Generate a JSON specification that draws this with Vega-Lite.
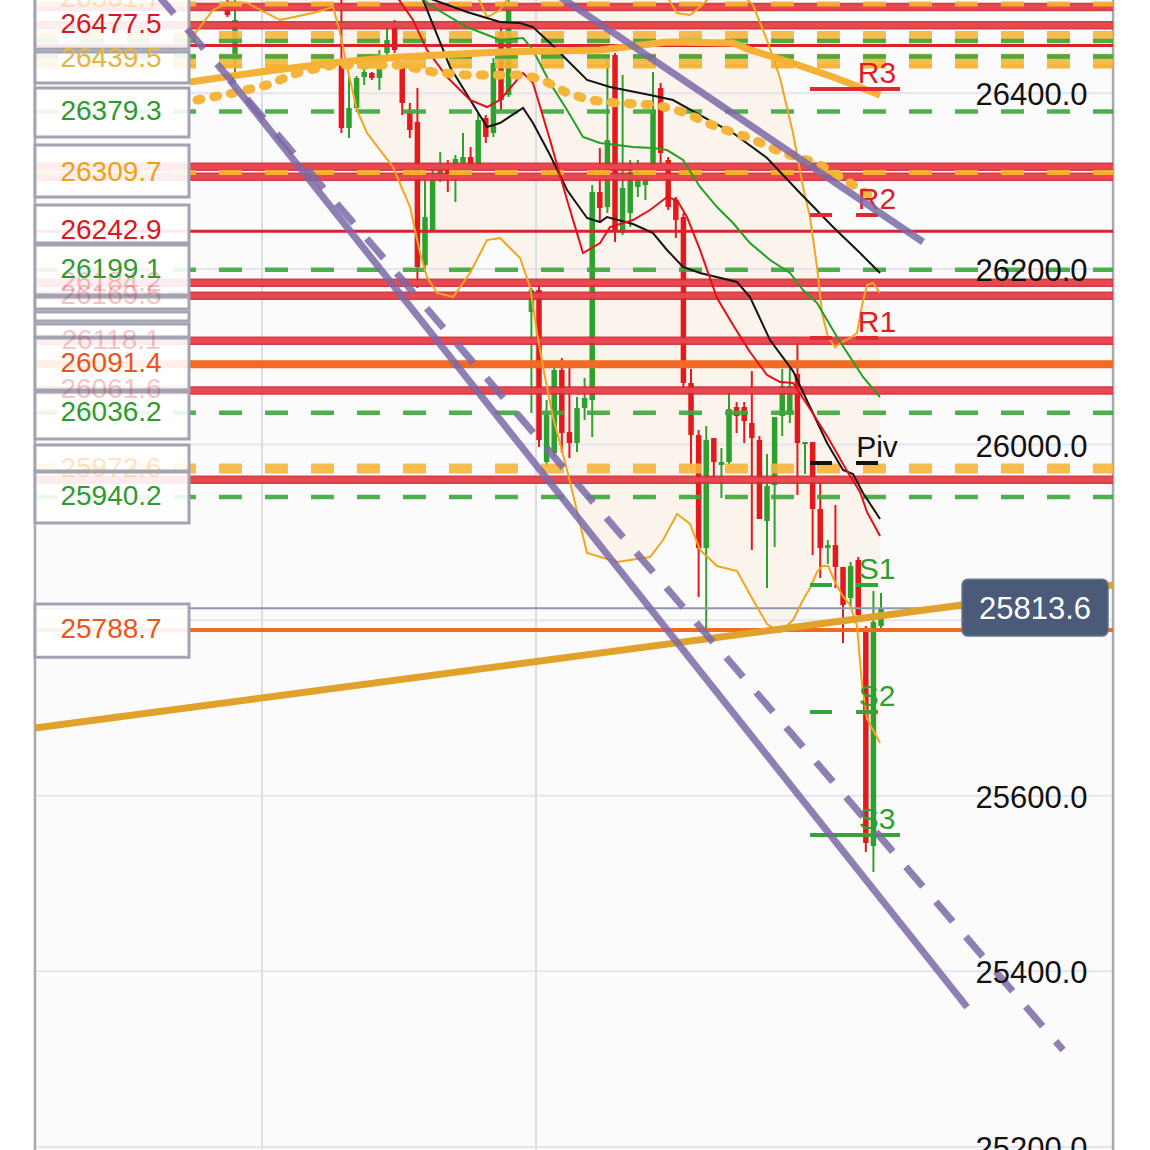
{
"$schema": "https://vega.github.io/schema/vega-lite/v6.json",
"width": 1150, "height": 1150, "autosize": "none", "padding": 0,
"background": "#ffffff",
"config": {"view": {"stroke": null}},
"resolve": {"scale": {"color": "independent"}},
"datasets": {
"candles": [
{"x":4,"o":26498.3,"h":26512,"l":26486.9,"c":26489.2},
{"x":5,"o":26437.9,"h":26512,"l":26424.3,"c":26483.5},
{"x":19,"o":26432.3,"h":26517.7,"l":26354.8,"c":26360.5},
{"x":20,"o":26360.5,"h":26418.6,"l":26349.1,"c":26383.3},
{"x":21,"o":26383.3,"h":26419.7,"l":26378.7,"c":26417.5},
{"x":22,"o":26418.6,"h":26432.3,"l":26409.5,"c":26424.3},
{"x":23,"o":26423.2,"h":26424.3,"l":26415.2,"c":26417.5},
{"x":24,"o":26417.5,"h":26449.3,"l":26403.8,"c":26432.3},
{"x":25,"o":26445.9,"h":26474.4,"l":26443.7,"c":26460.7},
{"x":26,"o":26477.8,"h":26483.5,"l":26445.9,"c":26449.3},
{"x":27,"o":26432.3,"h":26435.7,"l":26375.3,"c":26389.0},
{"x":28,"o":26377.6,"h":26389.0,"l":26349.1,"c":26358.2},
{"x":29,"o":26367.3,"h":26406.1,"l":26178.3,"c":26202.2},
{"x":30,"o":26204.5,"h":26316.1,"l":26196.5,"c":26259.1},
{"x":31,"o":26244.3,"h":26316.1,"l":26242.0,"c":26301.3},
{"x":32,"o":26304.7,"h":26333.2,"l":26299.0,"c":26316.1},
{"x":33,"o":26318.4,"h":26324.1,"l":26287.6,"c":26304.7},
{"x":34,"o":26316.1,"h":26329.8,"l":26276.2,"c":26325.2},
{"x":35,"o":26320.6,"h":26354.8,"l":26318.4,"c":26327.5},
{"x":36,"o":26327.5,"h":26338.9,"l":26315.0,"c":26316.1},
{"x":37,"o":26318.4,"h":26377.6,"l":26316.1,"c":26369.6},
{"x":38,"o":26371.9,"h":26375.3,"l":26343.4,"c":26350.3},
{"x":39,"o":26354.8,"h":26440.2,"l":26350.3,"c":26434.5},
{"x":40,"o":26469.9,"h":26475.5,"l":26381.0,"c":26392.4},
{"x":41,"o":26398.1,"h":26517.7,"l":26395.8,"c":26500.6},
{"x":44,"o":26151.0,"h":26178.3,"l":26035.9,"c":26176.0},
{"x":45,"o":26176.0,"h":26181.7,"l":25997.2,"c":26005.2},
{"x":46,"o":25980.1,"h":26050.7,"l":25974.4,"c":26033.6},
{"x":47,"o":25990.3,"h":26090.6,"l":25985.8,"c":26084.9},
{"x":48,"o":26084.9,"h":26098.5,"l":25990.3,"c":26013.1},
{"x":49,"o":26014.2,"h":26094.0,"l":25984.6,"c":26001.7},
{"x":50,"o":26001.7,"h":26054.1,"l":25991.5,"c":26041.6},
{"x":51,"o":26041.6,"h":26075.8,"l":26027.9,"c":26053.0},
{"x":52,"o":26050.7,"h":26295.6,"l":26008.6,"c":26287.6},
{"x":53,"o":26287.6,"h":26337.7,"l":26253.4,"c":26269.4},
{"x":54,"o":26270.5,"h":26441.4,"l":26263.7,"c":26346.8},
{"x":55,"o":26443.7,"h":26445.9,"l":26230.7,"c":26244.3},
{"x":56,"o":26240.9,"h":26420.9,"l":26238.6,"c":26292.2},
{"x":57,"o":26263.7,"h":26324.1,"l":26247.8,"c":26310.4},
{"x":58,"o":26293.3,"h":26324.1,"l":26281.9,"c":26312.7},
{"x":59,"o":26295.6,"h":26307.0,"l":26278.5,"c":26301.3},
{"x":60,"o":26318.4,"h":26424.3,"l":26318.4,"c":26381.0},
{"x":61,"o":26406.1,"h":26411.8,"l":26320.6,"c":26332.0},
{"x":62,"o":26324.1,"h":26327.5,"l":26267.1,"c":26270.5},
{"x":63,"o":26278.5,"h":26281.9,"l":26235.2,"c":26255.7},
{"x":64,"o":26259.1,"h":26263.7,"l":26062.1,"c":26070.1},
{"x":65,"o":26070.1,"h":26086.0,"l":25975.5,"c":26010.8},
{"x":66,"o":26010.8,"h":26016.5,"l":25826.3,"c":25882.1},
{"x":67,"o":25882.1,"h":26021.1,"l":25789.9,"c":26005.2},
{"x":68,"o":26007.4,"h":26007.4,"l":25961.9,"c":25980.1},
{"x":69,"o":25976.7,"h":25996.0,"l":25939.1,"c":25980.1},
{"x":70,"o":25980.1,"h":26059.8,"l":25977.8,"c":26040.5},
{"x":71,"o":26042.7,"h":26048.4,"l":26013.1,"c":26032.5},
{"x":72,"o":26042.7,"h":26048.4,"l":26001.7,"c":26026.8},
{"x":73,"o":26024.5,"h":26083.7,"l":25879.9,"c":26007.4},
{"x":74,"o":26005.2,"h":26009.7,"l":25915.2,"c":25915.2},
{"x":75,"o":25912.9,"h":25989.2,"l":25836.6,"c":25952.8},
{"x":76,"o":25953.9,"h":26031.3,"l":25883.3,"c":26031.3},
{"x":77,"o":26032.5,"h":26086.0,"l":26009.7,"c":26066.6},
{"x":78,"o":26034.7,"h":26091.7,"l":26024.5,"c":26066.6},
{"x":79,"o":26080.3,"h":26119.0,"l":25942.5,"c":26001.7},
{"x":80,"o":26000.6,"h":26002.9,"l":25966.4,"c":26002.9},
{"x":81,"o":26002.9,"h":26002.9,"l":25874.2,"c":25926.6},
{"x":82,"o":25926.6,"h":25956.2,"l":25848.0,"c":25882.1},
{"x":83,"o":25882.1,"h":25891.2,"l":25863.9,"c":25885.5},
{"x":84,"o":25885.5,"h":25931.1,"l":25836.6,"c":25860.5},
{"x":85,"o":25860.5,"h":25860.5,"l":25773.9,"c":25817.2},
{"x":86,"o":25825.2,"h":25866.2,"l":25815.0,"c":25861.6},
{"x":87,"o":25868.5,"h":25871.9,"l":25799.0,"c":25805.8},
{"x":88,"o":25791.0,"h":25793.3,"l":25535.9,"c":25546.1},
{"x":89,"o":25542.7,"h":25833.2,"l":25513.1,"c":25797.8},
{"x":90,"o":25793.3,"h":25830.9,"l":25789.9,"c":25813.6}
],
"ma": [
{"s":"b1","x":29.34,"y":26512.0},{"s":"b1","x":35.53,"y":26492.6},{"s":"b1","x":39.87,"y":26481.2},{"s":"b1","x":42.5,"y":26480.1},{"s":"b1","x":44.21,"y":26475.5},{"s":"b1","x":46.45,"y":26457.3},{"s":"b1","x":48.69,"y":26437.9},{"s":"b1","x":51.32,"y":26415.2},{"s":"b1","x":54.34,"y":26407.2},{"s":"b1","x":59.61,"y":26398.1},{"s":"b1","x":62.63,"y":26392.4},{"s":"b1","x":66.19,"y":26375.3},{"s":"b1","x":70.53,"y":26354.8},{"s":"b1","x":75.0,"y":26326.3},{"s":"b1","x":79.34,"y":26286.5},{"s":"b1","x":83.69,"y":26247.7},{"s":"b1","x":87.24,"y":26218.1},{"s":"b1","x":89.87,"y":26195.4},
{"s":"b2","x":28.5,"y":26530.0},{"s":"b2","x":29.74,"y":26506.3},{"s":"b2","x":33.29,"y":26430.0},{"s":"b2","x":38.16,"y":26361.6},{"s":"b2","x":39.87,"y":26366.2},{"s":"b2","x":42.9,"y":26383.3},{"s":"b2","x":44.21,"y":26366.2},{"s":"b2","x":46.45,"y":26329.8},{"s":"b2","x":48.69,"y":26289.9},{"s":"b2","x":51.32,"y":26258.0},{"s":"b2","x":53.03,"y":26253.4},{"s":"b2","x":53.95,"y":26259.1},{"s":"b2","x":57.37,"y":26251.2},{"s":"b2","x":60.0,"y":26240.9},{"s":"b2","x":61.84,"y":26221.6},{"s":"b2","x":63.95,"y":26202.2},{"s":"b2","x":66.19,"y":26195.4},{"s":"b2","x":71.05,"y":26185.1},{"s":"b2","x":72.76,"y":26168.0},{"s":"b2","x":75.4,"y":26119.0},{"s":"b2","x":78.42,"y":26083.7},{"s":"b2","x":80.66,"y":26042.7},{"s":"b2","x":82.9,"y":26001.7},{"s":"b2","x":85.0,"y":25971.0},{"s":"b2","x":86.32,"y":25966.4},{"s":"b2","x":87.63,"y":25944.8},{"s":"b2","x":89.87,"y":25915.2},
{"s":"r","x":25.5,"y":26520.0},{"s":"r","x":28.42,"y":26483.5},{"s":"r","x":30.26,"y":26449.4},{"s":"r","x":32.9,"y":26418.6},{"s":"r","x":35.92,"y":26392.4},{"s":"r","x":38.16,"y":26384.4},{"s":"r","x":39.87,"y":26392.4},{"s":"r","x":42.9,"y":26423.2},{"s":"r","x":44.21,"y":26411.8},{"s":"r","x":46.45,"y":26346.8},{"s":"r","x":48.69,"y":26278.5},{"s":"r","x":50.79,"y":26218.1},{"s":"r","x":53.03,"y":26229.5},{"s":"r","x":54.34,"y":26247.7},{"s":"r","x":57.37,"y":26255.7},{"s":"r","x":59.61,"y":26267.1},{"s":"r","x":61.84,"y":26281.9},{"s":"r","x":63.16,"y":26278.5},{"s":"r","x":64.47,"y":26259.1},{"s":"r","x":66.19,"y":26221.6},{"s":"r","x":68.42,"y":26166.9},{"s":"r","x":70.53,"y":26136.1},{"s":"r","x":72.76,"y":26105.4},{"s":"r","x":75.0,"y":26079.2},{"s":"r","x":76.71,"y":26071.2},{"s":"r","x":78.42,"y":26070.1},{"s":"r","x":80.66,"y":26040.5},{"s":"r","x":82.9,"y":26009.7},{"s":"r","x":85.53,"y":25969.8},{"s":"r","x":87.24,"y":25945.9},{"s":"r","x":88.16,"y":25923.1},{"s":"r","x":89.87,"y":25895.8},
{"s":"g","x":29.34,"y":26510.0},{"s":"g","x":31.05,"y":26498.3},{"s":"g","x":35.53,"y":26475.5},{"s":"g","x":39.87,"y":26460.7},{"s":"g","x":42.9,"y":26463.0},{"s":"g","x":44.21,"y":26449.4},{"s":"g","x":46.45,"y":26411.8},{"s":"g","x":48.69,"y":26381.0},{"s":"g","x":50.79,"y":26350.3},{"s":"g","x":53.03,"y":26343.4},{"s":"g","x":55.26,"y":26341.1},{"s":"g","x":57.37,"y":26338.9},{"s":"g","x":60.0,"y":26337.7},{"s":"g","x":61.84,"y":26335.4},{"s":"g","x":63.95,"y":26324.1},{"s":"g","x":66.19,"y":26293.3},{"s":"g","x":68.42,"y":26270.5},{"s":"g","x":70.53,"y":26252.3},{"s":"g","x":72.76,"y":26229.5},{"s":"g","x":75.4,"y":26210.2},{"s":"g","x":78.03,"y":26195.4},{"s":"g","x":79.74,"y":26176.0},{"s":"g","x":81.58,"y":26161.2},{"s":"g","x":84.21,"y":26122.5},{"s":"g","x":85.92,"y":26099.7},{"s":"g","x":87.63,"y":26076.9},{"s":"g","x":89.87,"y":26054.1}
],
"band": [
{"x":-0.92,"up":26540,"lo":26460.7},{"x":2.11,"up":26540,"lo":26494.9},{"x":4.34,"up":26540,"lo":26504.0},{"x":6.58,"up":26540,"lo":26502.9},{"x":10.92,"up":26540,"lo":26483.5},{"x":15.26,"up":26540,"lo":26491.5},{"x":17.9,"up":26540,"lo":26498.3},{"x":18.82,"up":26540,"lo":26468.7},{"x":19.74,"up":26540,"lo":26430.0},{"x":21.05,"up":26540,"lo":26381.0},{"x":22.37,"up":26540,"lo":26354.8},{"x":24.08,"up":26540,"lo":26335.4},{"x":25.79,"up":26540,"lo":26316.1},{"x":28.03,"up":26540,"lo":26270.5},{"x":29.34,"up":26540,"lo":26218.1},{"x":30.26,"up":26540,"lo":26190.8},{"x":31.58,"up":26540,"lo":26172.6},{"x":33.69,"up":26540,"lo":26168.0},{"x":35.92,"up":26529.1,"lo":26195.4},{"x":38.16,"up":26486.9,"lo":26232.9},{"x":39.87,"up":26494.9,"lo":26235.2},{"x":42.5,"up":26529.1,"lo":26212.4},{"x":43.82,"up":26540,"lo":26179.4},{"x":44.74,"up":26540,"lo":26127.0},{"x":45.53,"up":26540,"lo":26088.3},{"x":46.84,"up":26540,"lo":26031.3},{"x":48.69,"up":26540,"lo":25971.0},{"x":51.32,"up":26540,"lo":25876.4},{"x":55.26,"up":26540,"lo":25866.2},{"x":59.61,"up":26529.1,"lo":25871.9},{"x":61.32,"up":26517.7,"lo":25891.2},{"x":63.16,"up":26491.5,"lo":25920.9},{"x":64.87,"up":26489.2,"lo":25909.5},{"x":66.19,"up":26498.3,"lo":25879.9},{"x":68.42,"up":26517.7,"lo":25861.6},{"x":71.05,"up":26517.7,"lo":25855.9},{"x":73.16,"up":26500.6,"lo":25822.9},{"x":75.0,"up":26460.7,"lo":25795.6},{"x":76.71,"up":26417.5,"lo":25786.4},{"x":78.42,"up":26354.8,"lo":25800.1},{"x":79.74,"up":26293.3,"lo":25822.9},{"x":80.66,"up":26259.1,"lo":25836.6},{"x":81.58,"up":26202.2,"lo":25854.8},{"x":82.24,"up":26149.8,"lo":25861.6},{"x":83.03,"up":26122.5,"lo":25861.6},{"x":83.95,"up":26111.1,"lo":25843.4},{"x":84.87,"up":26116.8,"lo":25828.6},{"x":85.92,"up":26121.3,"lo":25817.2},{"x":86.84,"up":26127.0,"lo":25793.3},{"x":87.5,"up":26158.9,"lo":25727.2},{"x":88.16,"up":26181.7,"lo":25687.4},{"x":88.95,"up":26184.0,"lo":25674.8},{"x":89.87,"up":26172.6,"lo":25660.0}
],
"ema": [{"x":-0.92,"y":26412.9},{"x":8.29,"y":26424.3},{"x":18.82,"y":26435.7},{"x":26.71,"y":26441.4},{"x":39.87,"y":26447.1},{"x":53.03,"y":26449.4},{"x":61.84,"y":26458.5},{"x":70.53,"y":26457.3},{"x":72.76,"y":26449.4},{"x":77.11,"y":26438.0},{"x":83.69,"y":26418.6},{"x":89.87,"y":26398.1}],
"dots": [{"x":0.0,"y":26392.4},{"x":4.74,"y":26400.4},{"x":9.21,"y":26409.5},{"x":13.55,"y":26424.3},{"x":17.9,"y":26432.3},{"x":26.71,"y":26432.3},{"x":31.05,"y":26424.3},{"x":35.53,"y":26420.9},{"x":42.9,"y":26420.9},{"x":45.53,"y":26415.2},{"x":48.69,"y":26400.4},{"x":51.71,"y":26392.4},{"x":55.26,"y":26389.0},{"x":60.53,"y":26386.7},{"x":63.95,"y":26378.7},{"x":68.42,"y":26361.6},{"x":72.76,"y":26349.1},{"x":77.11,"y":26332.0},{"x":81.58,"y":26320.6},{"x":85.92,"y":26297.9},{"x":89.47,"y":26278.5}],
"trend": [{"x":-21.32,"y":25677.1},{"x":120.53,"y":25840.0}],
"purple": [{"s":"a","x":4.34,"y":26415.2},{"s":"a","x":101.32,"y":25359.3},{"s":"c","x":46.45,"y":26517.7},{"s":"c","x":95.53,"y":26230.7}],
"purpleDash": [{"x":-5.26,"y":26513.1},{"x":113.95,"y":25310.4}],
"redBands": [{"y":26498.3},{"y":26477.5},{"y":26316.3},{"y":26305.0},{"y":26184.2},{"y":26169.5},{"y":26118.1},{"y":26061.6},{"y":25960.0}],
"redThin": [{"y":26454.5},{"y":26242.9}],
"orangeSolidThick": [{"y":26091.4}],
"orangeSolidThin": [{"y":25788.7}],
"lastPrice": [{"y":25813.6,"t":"25813.6"}],
"orangeDashThick": [{"y":26465.3},{"y":26439.5},{"y":25972.6}],
"orangeDashThin": [{"y":26501.7},{"y":26431.1},{"y":26309.7}],
"greenDash": [{"y":26459.6},{"y":26442.0},{"y":26379.3},{"y":26199.1},{"y":26036.2},{"y":25940.2}],
"grid": [{"y":26400,"t":"26400.0"},{"y":26200,"t":"26200.0"},{"y":26000,"t":"26000.0"},{"y":25800,"t":"25800.0"},{"y":25600,"t":"25600.0"},{"y":25400,"t":"25400.0"},{"y":25200,"t":"25200.0"}],
"vgrid": [{"x":8.55},{"x":44.61}],
"frame": [{"x":-21.32},{"x":120.53}],
"pivots": [
{"n":"R3","k":"R","y":26404.9,"x":80.66,"x2":92.5},
{"n":"R2","k":"R","y":26261.4,"x":80.66,"x2":89.87},
{"n":"R1","k":"R","y":26121.3,"x":80.66,"x2":89.87},
{"n":"Piv","k":"P","y":25979.0,"x":80.66,"x2":89.87},
{"n":"S1","k":"S","y":25840.0,"x":80.66,"x2":89.87},
{"n":"S2","k":"S","y":25695.4,"x":80.66,"x2":89.87},
{"n":"S3","k":"S","y":25555.2,"x":80.66,"x2":92.5}
],
"boxes": [
{"top":26517.7,"bot":26450.5},{"top":26447.1,"bot":26411.8},{"top":26406.1,"bot":26350.3},{"top":26341.1,"bot":26281.9},{"top":26272.8,"bot":26229.5},{"top":26227.2,"bot":26170.3},{"top":26168.0,"bot":26154.4},{"top":26151.0,"bot":26140.7},{"top":26137.3,"bot":26122.5},{"top":26121.3,"bot":26062.1},{"top":26059.8,"bot":26006.3},{"top":25999.5,"bot":25969.8},{"top":25968.7,"bot":25910.6},{"top":25818.3,"bot":25757.8}
],
"labels": [
{"y":26477.5,"t":"26477.5","k":"red"},
{"y":26439.5,"t":"26439.5","k":"gold"},
{"y":26379.3,"t":"26379.3","k":"green"},
{"y":26309.7,"t":"26309.7","k":"orange"},
{"y":26242.9,"t":"26242.9","k":"red"},
{"y":26199.1,"t":"26199.1","k":"green"},
{"y":26091.4,"t":"26091.4","k":"orangered"},
{"y":26036.2,"t":"26036.2","k":"green"},
{"y":25940.2,"t":"25940.2","k":"green"},
{"y":25788.7,"t":"25788.7","k":"orangered"}
],
"faded": [
{"y":26508.0,"t":"26501.7","k":"orange"},
{"y":26184.2,"t":"26184.2","k":"red"},
{"y":26169.5,"t":"26169.5","k":"red"},
{"y":26118.1,"t":"26118.1","k":"red"},
{"y":26061.6,"t":"26061.6","k":"red"},
{"y":25972.6,"t":"25972.6","k":"orange"}
]
},
"layer": [
{"data": {"values": [{}]}, "mark": {"type": "rect", "color": "#fbfbfc", "clip": true},
 "encoding": {
  "x": {"datum": -21.32, "type": "quantitative", "scale": {"domain": [-25.92, 125.39], "nice": false, "zero": false}, "axis": null},
  "x2": {"datum": 120.53},
  "y": {"datum": 25100, "type": "quantitative", "scale": {"domain": [25196.5, 26506.3], "nice": false, "zero": false}, "axis": null},
  "y2": {"datum": 26600}}},
{"data": {"name": "band"}, "mark": {"type": "area", "color": "#fbeedd", "opacity": 0.5, "orient": "vertical", "clip": true},
 "encoding": {"x": {"field": "x", "type": "quantitative", "scale": {"domain": [-25.92, 125.39], "nice": false, "zero": false}, "axis": null},
  "y": {"field": "lo", "type": "quantitative", "scale": {"domain": [25196.5, 26506.3], "nice": false, "zero": false}, "axis": null}, "y2": {"field": "up"}}},
{"data": {"name": "grid"}, "mark": {"type": "rule", "color": "#e5e5eb", "strokeWidth": 2},
 "encoding": {"x": {"datum": -21.32, "type": "quantitative", "axis": null}, "x2": {"datum": 120.53}, "y": {"field": "y", "type": "quantitative", "axis": null}}},
{"data": {"name": "vgrid"}, "mark": {"type": "rule", "color": "#dcdce3", "strokeWidth": 2},
 "encoding": {"x": {"field": "x", "type": "quantitative", "axis": null}, "y": {"datum": 25196.5, "type": "quantitative", "axis": null}, "y2": {"datum": 26506.3}}},
{"data": {"name": "frame"}, "mark": {"type": "rule", "color": "#a8a8b1", "strokeWidth": 2.5},
 "encoding": {"x": {"field": "x", "type": "quantitative", "axis": null}, "y": {"datum": 25196.5, "type": "quantitative", "axis": null}, "y2": {"datum": 26506.3}}},
{"data": {"name": "candles"}, "mark": {"type": "rule", "strokeWidth": 2, "clip": true},
 "encoding": {"x": {"field": "x", "type": "quantitative", "axis": null}, "y": {"field": "l", "type": "quantitative", "axis": null}, "y2": {"field": "h"},
  "color": {"condition": {"test": "datum.c >= datum.o", "value": "#2ea02e"}, "value": "#e31a1c"}}},
{"data": {"name": "candles"}, "mark": {"type": "rule", "strokeWidth": 5.5, "clip": true},
 "encoding": {"x": {"field": "x", "type": "quantitative", "axis": null}, "y": {"field": "o", "type": "quantitative", "axis": null}, "y2": {"field": "c"},
  "color": {"condition": {"test": "datum.c >= datum.o", "value": "#2ea02e"}, "value": "#e31a1c"}}},
{"data": {"name": "redBands"}, "mark": {"type": "rule", "color": "#cf2a33", "strokeWidth": 8.5, "opacity": 0.9},
 "encoding": {"x": {"datum": -21.32, "type": "quantitative", "axis": null}, "x2": {"datum": 120.53}, "y": {"field": "y", "type": "quantitative", "axis": null}}},
{"data": {"name": "redBands"}, "mark": {"type": "rule", "color": "#eb4951", "strokeWidth": 5, "opacity": 0.92},
 "encoding": {"x": {"datum": -21.32, "type": "quantitative", "axis": null}, "x2": {"datum": 120.53}, "y": {"field": "y", "type": "quantitative", "axis": null}}},
{"data": {"name": "redThin"}, "mark": {"type": "rule", "color": "#d9222b", "strokeWidth": 3},
 "encoding": {"x": {"datum": -21.32, "type": "quantitative", "axis": null}, "x2": {"datum": 120.53}, "y": {"field": "y", "type": "quantitative", "axis": null}}},
{"data": {"name": "orangeSolidThick"}, "mark": {"type": "rule", "color": "#f06a24", "strokeWidth": 8},
 "encoding": {"x": {"datum": -21.32, "type": "quantitative", "axis": null}, "x2": {"datum": 120.53}, "y": {"field": "y", "type": "quantitative", "axis": null}}},
{"data": {"name": "orangeSolidThin"}, "mark": {"type": "rule", "color": "#f06a24", "strokeWidth": 4},
 "encoding": {"x": {"datum": -21.32, "type": "quantitative", "axis": null}, "x2": {"datum": 120.53}, "y": {"field": "y", "type": "quantitative", "axis": null}}},
{"data": {"name": "lastPrice"}, "mark": {"type": "rule", "color": "#8d97b0", "strokeWidth": 2},
 "encoding": {"x": {"datum": -21.32, "type": "quantitative", "axis": null}, "x2": {"datum": 100.66}, "y": {"field": "y", "type": "quantitative", "axis": null}}},
{"data": {"name": "orangeDashThick"}, "mark": {"type": "rule", "color": "#f5b53a", "strokeWidth": 10, "opacity": 0.9, "strokeDash": [23, 23]},
 "encoding": {"x": {"datum": -21.32, "type": "quantitative", "axis": null}, "x2": {"datum": 120.53}, "y": {"field": "y", "type": "quantitative", "axis": null}}},
{"data": {"name": "orangeDashThin"}, "mark": {"type": "rule", "color": "#f5b030", "strokeWidth": 5, "opacity": 0.95, "strokeDash": [23, 23]},
 "encoding": {"x": {"datum": -21.32, "type": "quantitative", "axis": null}, "x2": {"datum": 120.53}, "y": {"field": "y", "type": "quantitative", "axis": null}}},
{"data": {"name": "greenDash"}, "mark": {"type": "rule", "color": "#3aa63a", "strokeWidth": 4.5, "opacity": 0.9, "strokeDash": [23, 23]},
 "encoding": {"x": {"datum": -21.32, "type": "quantitative", "axis": null}, "x2": {"datum": 120.53}, "y": {"field": "y", "type": "quantitative", "axis": null}}},
{"data": {"name": "band"}, "mark": {"type": "line", "color": "#f2a51f", "strokeWidth": 2, "clip": true},
 "encoding": {"x": {"field": "x", "type": "quantitative", "axis": null}, "y": {"field": "up", "type": "quantitative", "axis": null}}},
{"data": {"name": "band"}, "mark": {"type": "line", "color": "#f2a51f", "strokeWidth": 2, "clip": true},
 "encoding": {"x": {"field": "x", "type": "quantitative", "axis": null}, "y": {"field": "lo", "type": "quantitative", "axis": null}}},
{"data": {"name": "ma"}, "mark": {"type": "line", "strokeWidth": 2, "clip": true},
 "encoding": {"x": {"field": "x", "type": "quantitative", "axis": null}, "y": {"field": "y", "type": "quantitative", "axis": null},
  "detail": {"field": "s"}, "color": {"field": "s", "type": "nominal", "legend": null,
  "scale": {"domain": ["b1", "b2", "r", "g"], "range": ["#141414", "#141414", "#e3101a", "#23a023"]}}}},
{"data": {"name": "ema"}, "mark": {"type": "line", "color": "#f4b133", "strokeWidth": 7, "clip": true},
 "encoding": {"x": {"field": "x", "type": "quantitative", "axis": null}, "y": {"field": "y", "type": "quantitative", "axis": null}}},
{"data": {"name": "dots"}, "mark": {"type": "line", "color": "#f5b43a", "strokeWidth": 9, "strokeDash": [4, 13], "strokeCap": "round", "clip": true},
 "encoding": {"x": {"field": "x", "type": "quantitative", "axis": null}, "y": {"field": "y", "type": "quantitative", "axis": null}}},
{"data": {"name": "trend"}, "mark": {"type": "line", "color": "#e0a22a", "strokeWidth": 7, "clip": true},
 "encoding": {"x": {"field": "x", "type": "quantitative", "axis": null}, "y": {"field": "y", "type": "quantitative", "axis": null}}},
{"data": {"name": "pivots"}, "transform": [{"filter": "datum.n == 'R3' || datum.n == 'S3'"}],
 "mark": {"type": "rule", "strokeWidth": 4},
 "encoding": {"x": {"field": "x", "type": "quantitative", "axis": null}, "x2": {"field": "x2"}, "y": {"field": "y", "type": "quantitative", "axis": null},
  "color": {"field": "k", "type": "nominal", "legend": null, "scale": {"domain": ["R", "P", "S"], "range": ["#e02a30", "#111111", "#36a336"]}}}},
{"data": {"name": "pivots"}, "transform": [{"filter": "datum.n != 'R3' && datum.n != 'S3'"}],
 "mark": {"type": "rule", "strokeWidth": 4, "strokeDash": [22, 24]},
 "encoding": {"x": {"field": "x", "type": "quantitative", "axis": null}, "x2": {"field": "x2"}, "y": {"field": "y", "type": "quantitative", "axis": null},
  "color": {"field": "k", "type": "nominal", "legend": null, "scale": {"domain": ["R", "P", "S"], "range": ["#e02a30", "#111111", "#36a336"]}}}},
{"data": {"name": "pivots"}, "mark": {"type": "text", "font": "Liberation Sans", "fontSize": 30, "align": "center", "baseline": "alphabetic", "dy": -6},
 "encoding": {"x": {"datum": 89.47, "type": "quantitative", "axis": null}, "y": {"field": "y", "type": "quantitative", "axis": null}, "text": {"field": "n"},
  "color": {"field": "k", "type": "nominal", "legend": null, "scale": {"domain": ["R", "P", "S"], "range": ["#dc1f27", "#111111", "#2f9f2f"]}}}},
{"data": {"name": "boxes"}, "mark": {"type": "rect", "fill": "#ffffff", "fillOpacity": 0.9, "stroke": "#a2a4b2", "strokeWidth": 3, "clip": true},
 "encoding": {"x": {"datum": -21.32, "type": "quantitative", "axis": null}, "x2": {"datum": -1.05}, "y": {"field": "top", "type": "quantitative", "axis": null}, "y2": {"field": "bot"}}},
{"data": {"name": "faded"}, "mark": {"type": "text", "font": "Liberation Sans", "fontSize": 28, "align": "center", "baseline": "middle", "opacity": 0.25, "clip": true},
 "encoding": {"x": {"datum": -11.31, "type": "quantitative", "axis": null}, "y": {"field": "y", "type": "quantitative", "axis": null}, "text": {"field": "t"},
  "color": {"field": "k", "type": "nominal", "legend": null, "scale": {"domain": ["red", "green", "orange", "orangered", "gold"], "range": ["#d51a22", "#2f9b2f", "#f0a018", "#e8561a", "#e0b030"]}}}},
{"data": {"name": "labels"}, "mark": {"type": "text", "font": "Liberation Sans", "fontSize": 28, "align": "center", "baseline": "middle"},
 "encoding": {"x": {"datum": -11.31, "type": "quantitative", "axis": null}, "y": {"field": "y", "type": "quantitative", "axis": null}, "text": {"field": "t"},
  "color": {"field": "k", "type": "nominal", "legend": null, "scale": {"domain": ["red", "green", "orange", "orangered", "gold"], "range": ["#d51a22", "#2f9b2f", "#f0a018", "#e8561a", "#e2b645"]}}}},
{"data": {"name": "purple"}, "mark": {"type": "line", "color": "#7b68a6", "opacity": 0.85, "strokeWidth": 7, "clip": true},
 "encoding": {"x": {"field": "x", "type": "quantitative", "axis": null}, "y": {"field": "y", "type": "quantitative", "axis": null}, "detail": {"field": "s"}}},
{"data": {"name": "purpleDash"}, "mark": {"type": "line", "color": "#7b68a6", "opacity": 0.85, "strokeWidth": 7, "strokeDash": [26, 20], "clip": true},
 "encoding": {"x": {"field": "x", "type": "quantitative", "axis": null}, "y": {"field": "y", "type": "quantitative", "axis": null}}},
{"data": {"name": "grid"}, "mark": {"type": "text", "font": "Liberation Sans", "fontSize": 31, "align": "center", "baseline": "middle", "dy": 3, "color": "#111111"},
 "encoding": {"x": {"datum": 109.8, "type": "quantitative", "axis": null}, "y": {"field": "y", "type": "quantitative", "axis": null}, "text": {"field": "t"}}},
{"data": {"name": "lastPrice"}, "mark": {"type": "rect", "fill": "#4a5a78", "stroke": "#66768f", "strokeWidth": 1.5, "cornerRadius": 6},
 "encoding": {"x": {"datum": 100.66, "type": "quantitative", "axis": null}, "x2": {"datum": 119.87}, "y": {"datum": 25781.8, "type": "quantitative", "axis": null}, "y2": {"datum": 25846.7}}},
{"data": {"name": "lastPrice"}, "mark": {"type": "text", "font": "Liberation Sans", "fontSize": 31, "align": "center", "baseline": "middle", "dy": 2, "color": "#ffffff"},
 "encoding": {"x": {"datum": 110.26, "type": "quantitative", "axis": null}, "y": {"field": "y", "type": "quantitative", "axis": null}, "text": {"field": "t"}}}
]
}
